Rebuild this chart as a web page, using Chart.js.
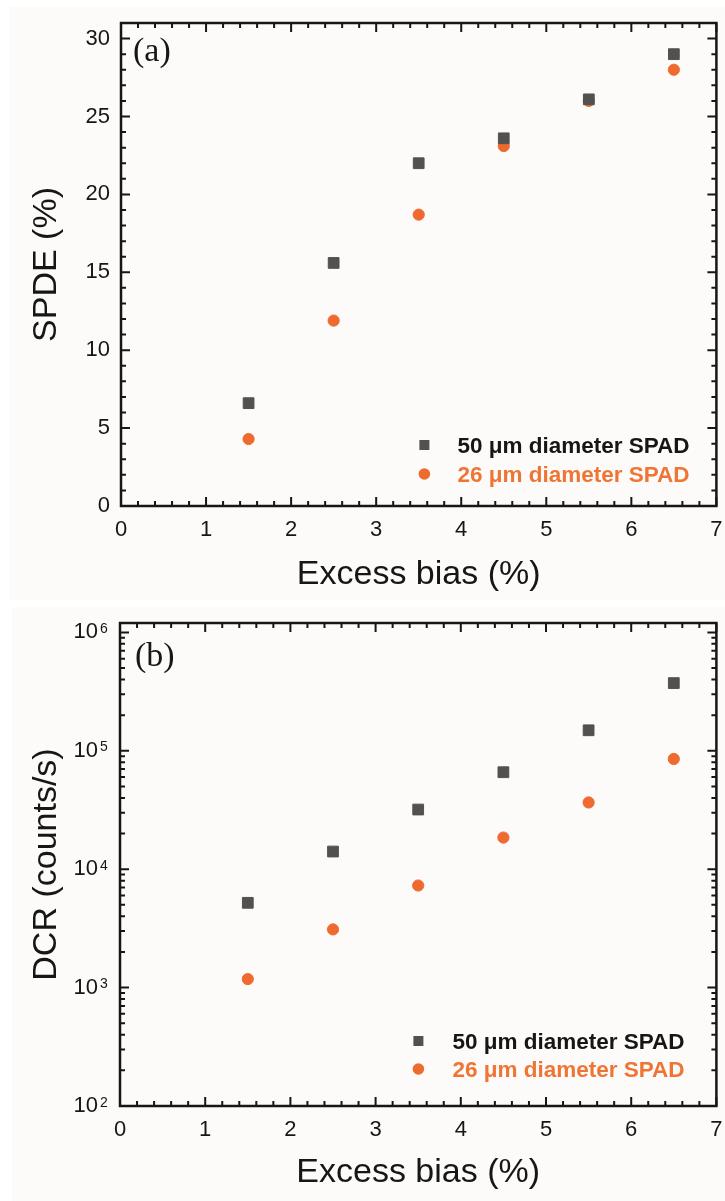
<!DOCTYPE html>
<html><head><meta charset="utf-8">
<script src="https://cdn.jsdelivr.net/npm/chart.js@4.4.0/dist/chart.umd.min.js"></script>
<style>
html,body{margin:0;padding:0;background:#ffffff;width:725px;height:1201px;overflow:hidden;}
#wa{position:absolute;left:9px;top:7px;width:716px;height:593px;background:#fcfbf9;}
#wb{position:absolute;left:12px;top:607px;width:713px;height:594px;background:#fcfbf9;}
canvas{display:block}
</style></head><body>
<div id="wa"><canvas id="ca"></canvas></div>
<div id="wb"><canvas id="cb"></canvas></div>
<script>
// ---- data ----
const excessBias = [1.5, 2.5, 3.5, 4.5, 5.5, 6.5];
const spde50 = [6.6, 15.6, 22.0, 23.6, 26.1, 29.0];
const spde26 = [4.3, 11.9, 18.7, 23.1, 26.0, 28.0];
const dcr50 = [5200, 14100, 31900, 65900, 149000, 373000];
const dcr26 = [1180, 3100, 7280, 18500, 36600, 85300];
const xTickValues = [0, 1, 2, 3, 4, 5, 6, 7];
const spdeTickValues = [0, 5, 10, 15, 20, 25, 30];
const dcrTickValues = [1e2, 1e3, 1e4, 1e5, 1e6];
const seriesLabels = ['50 μm diameter SPAD', '26 μm diameter SPAD'];
const panelLabels = ['(a)', '(b)'];

const SANS = '"Liberation Sans", Arial, sans-serif';
const SERIF = '"Liberation Serif", "Times New Roman", serif';
const INK = '#161616';
const GREY = '#53514f';
const ORANGE = '#ee6a2e';
const ORANGE_TXT = '#ef7535';

const framePlugin = {
  id: 'frame',
  afterDraw(chart, args, o) {
    const ctx = chart.ctx, a = chart.chartArea;
    const xs = chart.scales.x, ys = chart.scales.y;
    ctx.save();
    ctx.strokeStyle = INK;
    ctx.lineCap = 'butt';
    const majL = 9, minL = 5;
    const xMaj = xs.ticks.map(t => t.value);
    const xMin = [];
    for (let i = 0; i < xMaj.length - 1; i++)
      for (let k = 1; k < 5; k++) xMin.push(xMaj[i] + (xMaj[i+1] - xMaj[i]) * k / 5);
    const yMaj = ys.ticks.map(t => t.value);
    const yMin = [];
    const isLog = ys.type === 'logarithmic';
    if (isLog) {
      for (let i = 0; i < yMaj.length - 1; i++)
        for (let m = 2; m <= 9; m++) yMin.push(yMaj[i] * m);
    } else {
      for (let i = 0; i < yMaj.length - 1; i++)
        for (let k = 1; k < 5; k++) yMin.push(yMaj[i] + (yMaj[i+1] - yMaj[i]) * k / 5);
    }
    ctx.lineWidth = 2;
    const vt = (v, L) => {
      const p = xs.getPixelForValue(v);
      ctx.beginPath();
      ctx.moveTo(p, a.bottom); ctx.lineTo(p, a.bottom - L);
      ctx.moveTo(p, a.top); ctx.lineTo(p, a.top + L);
      ctx.stroke();
    };
    const ht = (v, L) => {
      const p = ys.getPixelForValue(v);
      if (p < a.top - 0.5 || p > a.bottom + 0.5) return;
      ctx.beginPath();
      ctx.moveTo(a.left, p); ctx.lineTo(a.left + L, p);
      ctx.moveTo(a.right, p); ctx.lineTo(a.right - L, p);
      ctx.stroke();
    };
    xMaj.forEach(v => vt(v, majL));
    xMin.forEach(v => vt(v, minL));
    yMaj.forEach(v => ht(v, majL));
    yMin.forEach(v => ht(v, minL));
    ctx.lineWidth = 2.5;
    ctx.strokeRect(a.left, a.top, a.right - a.left, a.bottom - a.top);

    // exponents of the log-axis tick labels (10^n)
    if (isLog) {
      ctx.fillStyle = INK;
      ctx.font = '14px ' + SANS;
      ctx.textAlign = 'left';
      ctx.textBaseline = 'alphabetic';
      yMaj.forEach(v => {
        const p = ys.getPixelForValue(v);
        ctx.fillText(String(Math.round(Math.log10(v))), a.left - 20, p + 0.5);
      });
    }

    ctx.fillStyle = INK;
    ctx.font = '34px ' + SERIF;
    ctx.textBaseline = 'alphabetic';
    ctx.textAlign = 'left';
    ctx.fillText(o.panel, a.left + o.pdx, a.top + o.pdy);

    ctx.font = 'bold 22.5px ' + SANS;
    ctx.textBaseline = 'middle';
    chart.data.datasets.forEach((ds, i) => {
      const mx = a.right + o.mx, my = a.bottom + o.rows[i], tx = a.right + o.tx;
      ctx.fillStyle = ds.pointBackgroundColor;
      if (ds.pointStyle === 'rect') {
        ctx.fillRect(mx - 5, my - 5, 10, 10);
      } else {
        ctx.beginPath(); ctx.arc(mx, my, 5.8, 0, Math.PI * 2); ctx.fill();
      }
      ctx.fillStyle = ds.legendColor;
      ctx.fillText(ds.label, tx, my + 1.5);
    });
    ctx.restore();
  }
};

function datasets(ys1, ys2) {
  return [
    { label: seriesLabels[0], data: excessBias.map((x, i) => ({x, y: ys1[i]})),
      pointStyle: 'rect', pointRadius: 7.6, pointBorderWidth: 1,
      pointBackgroundColor: GREY, pointBorderColor: GREY, legendColor: INK, showLine: false },
    { label: seriesLabels[1], data: excessBias.map((x, i) => ({x, y: ys2[i]})),
      pointStyle: 'circle', pointRadius: 5.6, pointBorderWidth: 1,
      pointBackgroundColor: ORANGE, pointBorderColor: ORANGE, legendColor: ORANGE_TXT, showLine: false }
  ];
}

function xScale(h, titlePad) {
  return {
    type: 'linear', min: 0, max: 7,
    afterBuildTicks: s => { s.ticks = xTickValues.map(v => ({value: v})); },
    afterFit: s => { s.height = h; s.paddingLeft = 0; s.paddingRight = 0; },
    grid: {display: false, drawTicks: false}, border: {display: false},
    ticks: {padding: 11, color: INK, font: {family: SANS, size: 22}, callback: v => String(v), maxRotation: 0},
    title: {display: true, text: 'Excess bias (%)', color: INK, font: {family: SANS, size: 34}, padding: {top: 0, bottom: titlePad}}
  };
}

new Chart(document.getElementById('ca'), {
  type: 'scatter',
  data: {datasets: datasets(spde50, spde26)},
  options: {
    responsive: true, maintainAspectRatio: false, animation: false,
    layout: {padding: {left: 0, right: 4, top: 16, bottom: 0}},
    plugins: {legend: {display: false}, tooltip: {enabled: false},
      frame: {panel: panelLabels[0], pdx: 12, pdy: 38, mx: -292, tx: -259, rows: [-61, -32]}},
    scales: {
      x: xScale(94, 5),
      y: {
        type: 'linear', min: 0, max: 31,
        afterBuildTicks: s => { s.ticks = spdeTickValues.map(v => ({value: v})); },
        afterFit: s => { s.width = 112; s.paddingTop = 0; s.paddingBottom = 0; },
        grid: {display: false, drawTicks: false}, border: {display: false},
        ticks: {padding: 11, color: INK, font: {family: SANS, size: 22}, callback: v => String(v)},
        title: {display: true, text: 'SPDE (%)', color: INK, font: {family: SANS, size: 34}, padding: {top: 17, bottom: 0}}
      }
    }
  },
  plugins: [framePlugin]
});

new Chart(document.getElementById('cb'), {
  type: 'scatter',
  data: {datasets: datasets(dcr50, dcr26)},
  options: {
    responsive: true, maintainAspectRatio: false, animation: false,
    layout: {padding: {left: 0, right: 4, top: 16, bottom: 0}},
    plugins: {legend: {display: false}, tooltip: {enabled: false},
      frame: {panel: panelLabels[1], pdx: 15, pdy: 43, mx: -298, tx: -264, rows: [-65, -37]}},
    scales: {
      x: xScale(95, 8),
      y: {
        type: 'logarithmic', min: 100, max: 1.2e6,
        afterBuildTicks: s => { s.ticks = dcrTickValues.map(v => ({value: v})); },
        afterFit: s => { s.width = 108; s.paddingTop = 0; s.paddingBottom = 0; },
        grid: {display: false, drawTicks: false}, border: {display: false},
        ticks: {padding: 22, color: INK, font: {family: SANS, size: 22}, callback: v => '10'},
        title: {display: true, text: 'DCR (counts/s)', color: INK, font: {family: SANS, size: 34}, padding: {top: 14, bottom: 0}}
      }
    }
  },
  plugins: [framePlugin]
});
</script>
</body></html>
